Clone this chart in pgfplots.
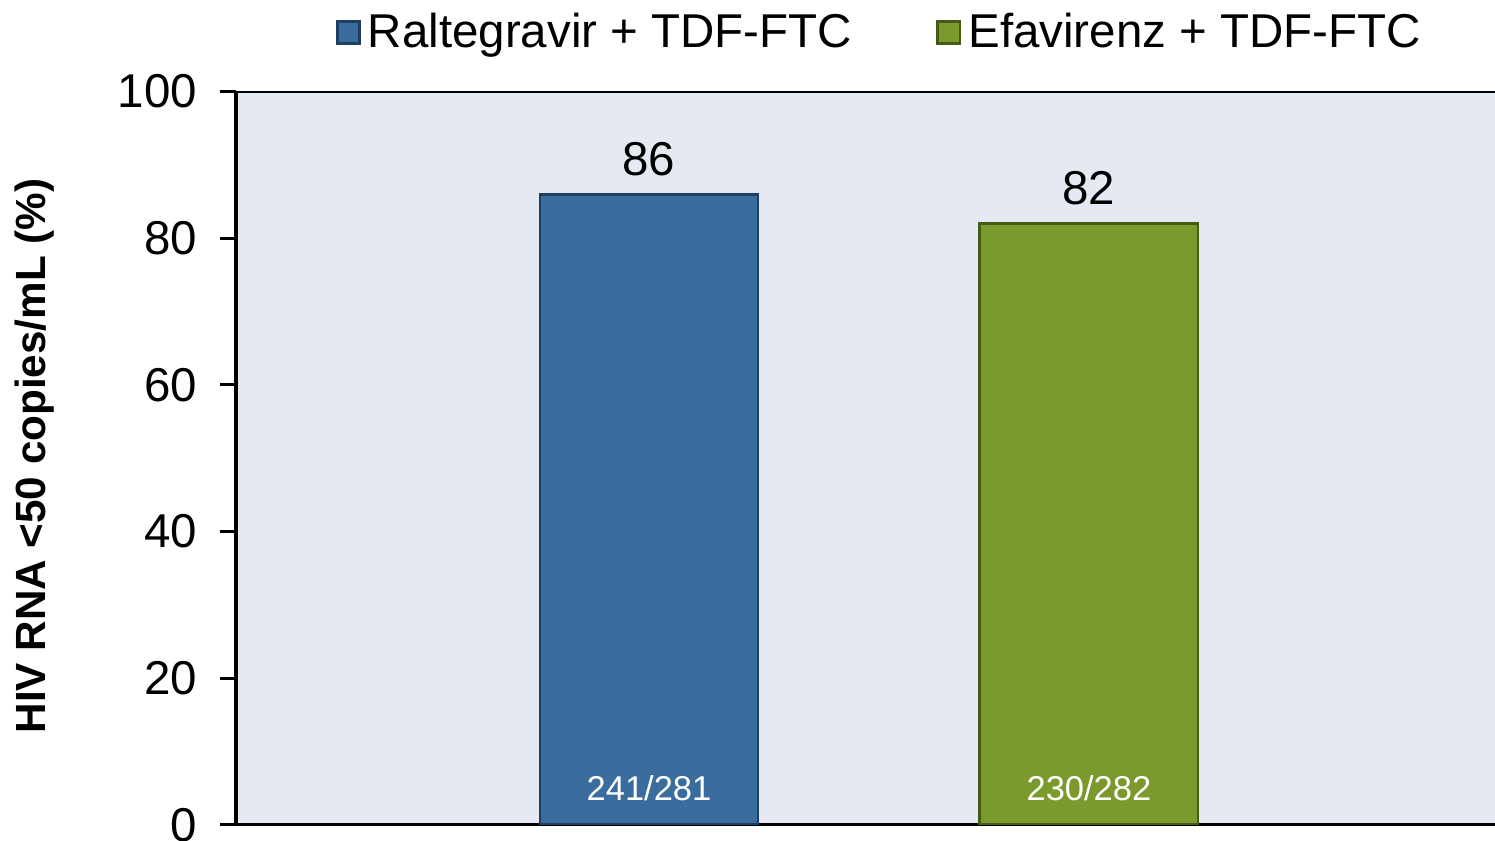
\documentclass[border=0pt]{standalone}
\usepackage{fontspec}
\setmainfont{Liberation Sans}
\usepackage{pgfplots}
\pgfplotsset{compat=1.18}
\definecolor{plotbg}{RGB}{229,233,241}
\definecolor{barblue}{RGB}{58,108,157}
\definecolor{barblueedge}{RGB}{30,62,98}
\definecolor{bargreen}{RGB}{123,154,45}
\definecolor{bargreenedge}{RGB}{70,92,20}
\begin{document}
\begin{tikzpicture}
\useasboundingbox (0,0) rectangle (425pt,239pt);
\begin{axis}[
  at={(67.1pt,4.55pt)}, anchor=south west,
  scale only axis, width=357.9pt, height=208.4pt,
  xmin=0.0614, xmax=2.923, ymin=0, ymax=100,
  ytick={0,20,40,60,80,100}, xtick=\empty,
  axis x line*=bottom, axis y line*=left,
  axis line style={line width=0.9pt, -},
  axis background/.style={fill=plotbg},
  tick align=outside, major tick length=4.5pt,
  every tick/.style={black, line width=0.9pt},
  /pgf/number format/assume math mode=true,
  tick label style={font=\fontsize{13.5}{15}\selectfont},
  yticklabel style={xshift=-3pt},
  ylabel={\bfseries HIV RNA <50 copies/mL (\%)},
  ylabel style={font=\fontsize{12}{14}\selectfont, at={(axis description cs:-0.1597,0.503)}, anchor=center},
  ybar, bar width=62pt, bar shift=0pt,
  legend style={at={(0.513,1.0805)}, anchor=center, draw=none, fill=none,
    legend columns=2, font=\fontsize{13.5}{15}\selectfont,
    /tikz/every even column/.append style={column sep=22pt}},
  legend image code/.code={\fill[#1] (-1.5pt,-3.15pt) rectangle (4.8pt,3.15pt);},
  nodes near coords, nodes near coords style={font=\fontsize{13.5}{15}\selectfont, black, anchor=south, yshift=1.5pt},
]
\addplot[fill=barblue, draw=barblueedge, line width=0.8pt] coordinates {(1,86)};
\addlegendentry{Raltegravir + TDF-FTC}
\addplot[fill=bargreen, draw=bargreenedge, line width=0.8pt] coordinates {(2,82)};
\addlegendentry{Efavirenz + TDF-FTC}
\draw[black, line width=0.9pt] (rel axis cs:0,1) -- (rel axis cs:1,1);
\node[white, font=\fontsize{9.8}{11}\selectfont] at (axis cs:1,5.05) {241/281};
\node[white, font=\fontsize{9.8}{11}\selectfont] at (axis cs:2,5.05) {230/282};
\end{axis}
\end{tikzpicture}
\end{document}
